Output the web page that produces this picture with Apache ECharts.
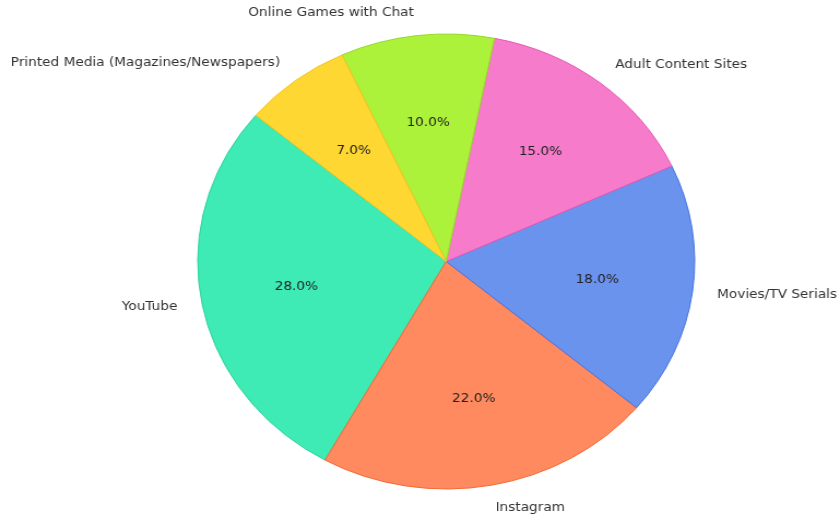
<!DOCTYPE html>
<html>
<head>
<meta charset="utf-8">
<script src="https://cdn.jsdelivr.net/npm/echarts@6/dist/echarts.min.js"></script>
<style>
html,body{margin:0;padding:0;background:#fff;overflow:hidden;}
#wrap{width:769px;height:515px;transform:scaleX(1.0923);transform-origin:0 0;}
</style>
</head>
<body>
<div id="wrap"></div>
<script>
const categories = ['YouTube', 'Instagram', 'Movies/TV Serials', 'Adult Content Sites', 'Online Games with Chat', 'Printed Media (Magazines/Newspapers)'];
const values = [28, 22, 18, 15, 10, 7];
const colors = ['#3EEBB4', '#FF8A5F', '#6A93EE', '#F77BCB', '#ADF23A', '#FFD733'];
const edgeColors = ['#2ED39E', '#F56A35', '#4673E0', '#E85AB6', '#96DA2A', '#F2C522'];

const R = 227.5;
const C = [408.5, 261.5];
const FONT = 'DejaVu Sans';

const chart = echarts.init(document.getElementById('wrap'), null, {renderer: 'canvas'});
chart.setOption({
  backgroundColor: '#ffffff',
  animation: false,
  series: [
    {
      type: 'pie',
      center: C,
      radius: [0, R],
      startAngle: 140,
      clockwise: false,
      avoidLabelOverlap: false,
      silent: true,
      data: categories.map((c, i) => ({
        name: c, value: values[i],
        itemStyle: {color: colors[i], borderColor: edgeColors[i], borderWidth: 1}
      })),
      label: {
        show: true, position: 'outside', formatter: '{b}',
        fontFamily: FONT, fontSize: 12.5, color: '#333333',
        distanceToLabelLine: 0
      },
      labelLine: {show: false, length: R * 0.1, length2: 0}
    },
    {
      type: 'pie',
      center: C,
      radius: [R * 0.2, R],
      startAngle: 140,
      clockwise: false,
      avoidLabelOverlap: false,
      silent: true,
      itemStyle: {color: 'rgba(0,0,0,0)', borderWidth: 0},
      data: categories.map((c, i) => ({name: c, value: values[i]})),
      label: {
        show: true, position: 'inside',
        formatter: p => p.value.toFixed(1) + '%',
        fontFamily: FONT, fontSize: 12.5, color: '#222222'
      },
      labelLine: {show: false}
    }
  ]
});
</script>
</body>
</html>
